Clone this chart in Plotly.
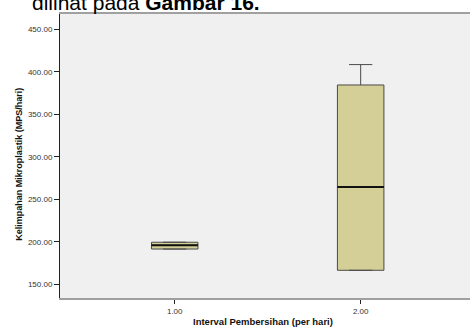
import plotly.graph_objects as go

# Box-plot summary values per cleaning interval
intervals = [1.0, 2.0]
lower_fence = [191.5, 166.5]
q1 = [191.5, 166.5]
median = [196.0, 264.5]
q3 = [199.5, 384.5]
upper_fence = [199.5, 408.5]

y_ticks = [150, 200, 250, 300, 350, 400, 450]
x_ticks = [1.0, 2.0]

BOX_W = 0.25
FONT = "Liberation Sans, Arial, sans-serif"

fig = go.Figure()
fig.add_trace(go.Box(
    x=intervals, q1=q1, median=median, q3=q3,
    lowerfence=lower_fence, upperfence=upper_fence,
    width=BOX_W, whiskerwidth=0.5,
    fillcolor="#D3CF97", line=dict(color="#4a4a4a", width=1),
    boxpoints=False, hoverinfo="skip", showlegend=False,
))

# heavier black median bars on top of each box
mx, my = [], []
for xi, m in zip(intervals, median):
    mx += [xi - BOX_W / 2, xi + BOX_W / 2, None]
    my += [m, m, None]
fig.add_trace(go.Scatter(x=mx, y=my, mode="lines",
                         line=dict(color="#111111", width=2),
                         hoverinfo="skip", showlegend=False))

fig.update_layout(
    width=470, height=327,
    margin=dict(l=60, r=0, t=14, b=29),
    paper_bgcolor="white", plot_bgcolor="#F0F0F0",
    font=dict(family=FONT, color="#333333", size=8),
    xaxis=dict(range=[0.383, 2.588], tickvals=x_ticks, tickformat=".2f",
               showgrid=False, zeroline=False,
               showline=True, linecolor="#A0A0A0", linewidth=2, mirror=True,
               ticks="outside", ticklen=4, tickcolor="#222", tickwidth=1,
               tickfont=dict(size=8, color="#333")),
    yaxis=dict(range=[133.9, 468], tickvals=y_ticks, tickformat=".2f",
               showgrid=False, zeroline=False,
               showline=True, linecolor="#222", linewidth=1,
               ticks="outside", ticklen=5, tickcolor="#222", tickwidth=1,
               tickfont=dict(size=8, color="#333")),
    annotations=[
        dict(text="<b>Kelimpahan Mikroplastik (MPS/hari)</b>", textangle=-90,
             xref="paper", yref="paper", x=-0.102, y=0.47,
             xanchor="center", yanchor="middle", showarrow=False,
             font=dict(family=FONT, size=9, color="#111")),
        dict(text="<b>Interval Pembersihan (per hari)</b>",
             xref="paper", yref="paper", x=0.495, y=-0.081,
             xanchor="center", yanchor="middle", showarrow=False,
             font=dict(family=FONT, size=9.5, color="#111")),
        dict(text="dilihat pada <b>Gambar 16.</b>",
             xref="paper", yref="paper", x=-0.073, y=0.993,
             xanchor="left", yanchor="bottom", showarrow=False,
             font=dict(family=FONT, size=21, color="#000")),
    ],
)

fig.write_html("out.html")
